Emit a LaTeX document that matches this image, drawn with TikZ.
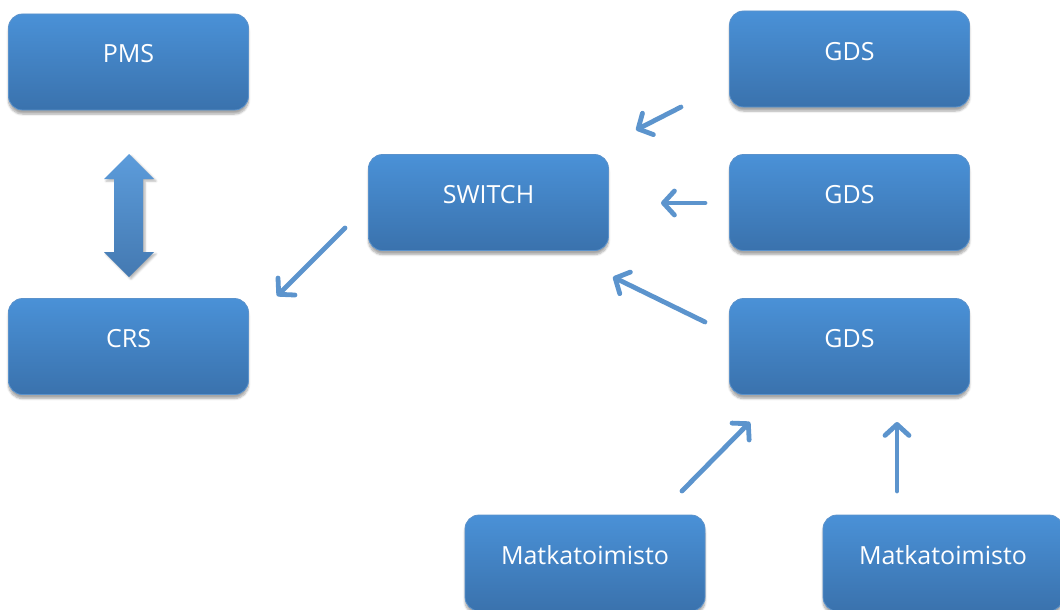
\documentclass[tikz,border=0pt]{standalone}
\usepackage{fontspec}
\setmainfont{Open Sans}
\usetikzlibrary{arrows.meta,shadows.blur}
\definecolor{boxtop}{HTML}{4A91D7}
\definecolor{boxbot}{HTML}{3A72AD}
\definecolor{boxline}{HTML}{5B92CB}
\definecolor{flow}{HTML}{5C94CD}
\tikzset{
  box/.style={rectangle, rounded corners=14pt, draw=boxline, line width=0.8pt,
    top color=boxtop, bottom color=boxbot, minimum width=240pt, minimum height=96pt,
    text=white, font=\fontsize{25}{27}\selectfont, text height=10pt, text depth=8pt,
    blur shadow={shadow xshift=0pt, shadow yshift=-4pt, shadow blur steps=6, shadow opacity=35}},
  flowarrow/.style={draw=flow, line width=4.8pt, line cap=round,
    -{Straight Barb[length=11pt, width=24pt, line join=round, line cap=round]}},
}
\begin{document}
\begin{tikzpicture}[x=1pt, y=-1pt]
\useasboundingbox (0,0) rectangle (1060,610);

% boxes
\node[box] (pms) at (128.5,62) {PMS};
\node[box] (crs) at (128.5,346.5) {CRS};
\node[box] (switch) at (488.5,202.5) {SWITCH};
\node[box] (gdsA) at (849.5,59) {GDS};
\node[box] (gdsB) at (849.5,202.5) {GDS};
\node[box] (gdsC) at (849.5,346.5) {GDS};
\node[box] (travelA) at (585,563) {Matkatoimisto};
\node[box] (travelB) at (943,563) {Matkatoimisto};

% two-way block arrow between PMS and CRS
\path[top color=boxtop!90, bottom color=boxbot!95,
      blur shadow={shadow xshift=2pt, shadow yshift=-2pt, shadow blur steps=5, shadow opacity=30}]
  (129,154) -- (154,179) -- (143,179) -- (143,252) -- (154,252) -- (129,277)
  -- (104,252) -- (114,252) -- (114,179) -- (104,179) -- cycle;

% connector end points
\coordinate (aTail) at (681,107);
\coordinate (aHead) at (636,130);
\coordinate (bTail) at (705,203);
\coordinate (bHead) at (661,203);
\coordinate (cTail) at (705,322);
\coordinate (cHead) at (613,277);
\coordinate (sTail) at (345,228);
\coordinate (sHead) at (277,296);
\coordinate (tTailA) at (682,491);
\coordinate (tHeadA) at (750,422);
\coordinate (tTailB) at (897,491);
\coordinate (tHeadB) at (897,422);

\draw[flowarrow] (aTail) -- (aHead);
\draw[flowarrow] (bTail) -- (bHead);
\draw[flowarrow] (cTail) -- (cHead);
\draw[flowarrow] (sTail) -- (sHead);
\draw[flowarrow] (tTailA) -- (tHeadA);
\draw[flowarrow] (tTailB) -- (tHeadB);
\end{tikzpicture}
\end{document}
